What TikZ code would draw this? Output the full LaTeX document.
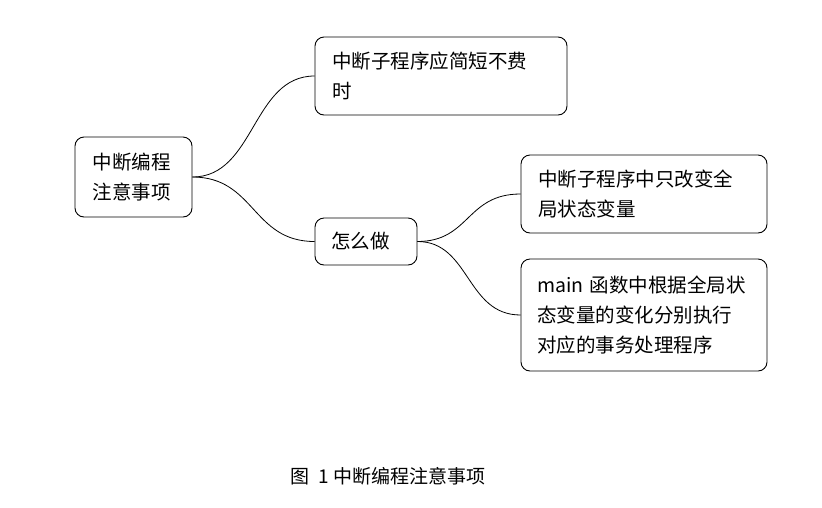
\documentclass[tikz,border=0pt]{standalone}
\usepackage{fontspec}
\setmainfont{Noto Sans CJK SC}
\begin{document}
\begin{tikzpicture}[x=1pt,y=-1pt,
  box/.style={draw,rounded corners=9pt,line width=0.9pt,align=left,inner xsep=0pt,
    font=\fontsize{19.5}{30}\selectfont},
  conn/.style={line width=0.8pt}]
\useasboundingbox (0,0) rectangle (822,507);
\node[box,minimum width=117,minimum height=80,text width=82] (root) at (133.5,177) {中断编程\\注意事项};
\node[box,minimum width=252,minimum height=78,text width=218] (b1) at (441,76) {中断子程序应简短不费\\时};
\node[box,minimum width=102,minimum height=47,text width=70] (how) at (366,241.5) {怎么做};
\node[box,minimum width=246,minimum height=78,text width=212] (b3) at (644,194) {中断子程序中只改变全\\局状态变量};
\node[box,minimum width=246,minimum height=112,text width=214] (b4) at (644,315) {main 函数中根据全局状\\态变量的变化分别执行\\对应的事务处理程序};
\draw[conn] (root.east) .. controls (255,177) and (252,76) .. (b1.west);
\draw[conn] (root.east) .. controls (255,177) and (252,241.5) .. (how.west);
\draw[conn] (how.east) .. controls (470,241.5) and (466,194) .. (b3.west);
\draw[conn] (how.east) .. controls (470,241.5) and (466,315) .. (b4.west);
\node[font=\fontsize{19}{22}\selectfont] (cap) at (388,476) {图\ \ 1 中断编程注意事项};
\end{tikzpicture}
\end{document}
